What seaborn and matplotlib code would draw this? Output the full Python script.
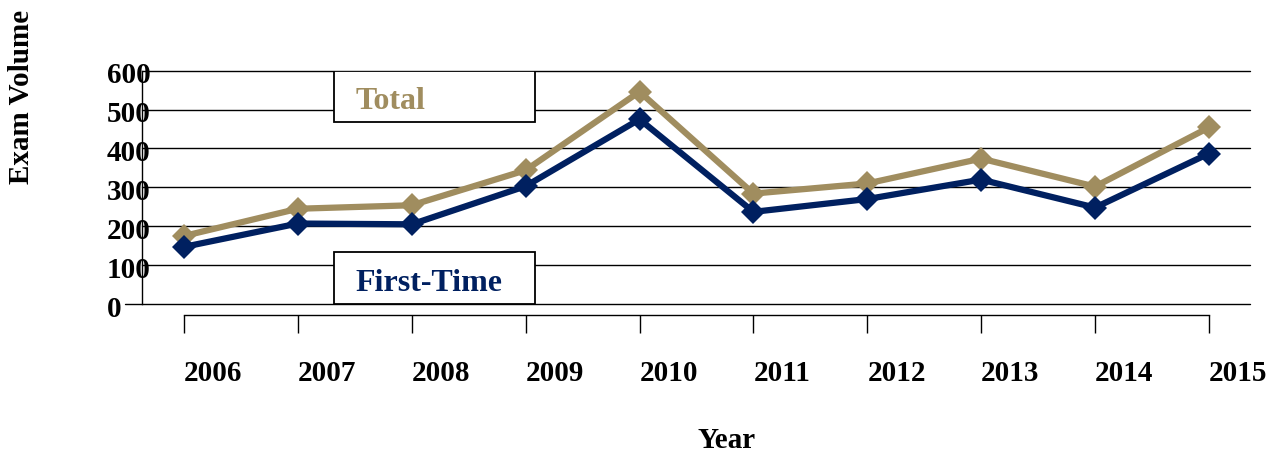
import numpy as np
import pandas as pd
import matplotlib
matplotlib.use("Agg")
import matplotlib.pyplot as plt
import matplotlib.patches as mpatches
import matplotlib.transforms as mtransforms
import seaborn as sns

# ============ DATA ============
years       = [2006, 2007, 2008, 2009, 2010, 2011, 2012, 2013, 2014, 2015]
total       = [175, 245, 254, 344, 546, 284, 310, 374, 302, 454]
first_time  = [147, 207, 205, 303, 475, 237, 270, 320, 248, 387]
y_ticks     = [0, 100, 200, 300, 400, 500, 600]
series      = ['Total', 'First-Time']

TAN  = '#A08D5F'
NAVY = '#002060'

df = pd.DataFrame({
    'Year': years * 2,
    'Exam Volume': total + first_time,
    'Series': ['Total'] * len(years) + ['First-Time'] * len(years),
})

# ============ STYLE ============
sns.set_style('white')
plt.rcParams['font.family'] = ['Liberation Serif', 'DejaVu Serif']
plt.rcParams['font.weight'] = 'bold'
plt.rcParams['text.color'] = 'black'
plt.rcParams['xtick.color'] = 'black'
plt.rcParams['ytick.color'] = 'black'
plt.rcParams['axes.labelcolor'] = 'black'

fig = plt.figure(figsize=(12.8, 4.58), dpi=100)
ax = fig.add_axes([0.1109, 0.3362, 0.8656, 0.5094])

# gridlines
for v in y_ticks:
    ax.axhline(v, color='black', lw=1.0, zorder=1, clip_on=False)
ax.axhline(0, xmin=-17 / 1108, xmax=0, color='black', lw=1.0, clip_on=False)

# label boxes
ax.add_patch(mpatches.Rectangle((0.1736, 0.780), 0.1814, 0.220, transform=ax.transAxes,
                                facecolor='white', edgecolor='black', lw=1.3, zorder=2))
ax.add_patch(mpatches.Rectangle((0.1736, 0.0), 0.1814, 0.224, transform=ax.transAxes,
                                facecolor='white', edgecolor='black', lw=1.3, zorder=2,
                                clip_on=False))
ax.text(0.1925, 0.870, 'Total', transform=ax.transAxes, color=TAN,
        fontsize=23, fontweight='bold', ha='left', va='center', zorder=3)
ax.text(0.1925, 0.090, 'First-Time', transform=ax.transAxes, color=NAVY,
        fontsize=23, fontweight='bold', ha='left', va='center', zorder=3)

# lines
sns.lineplot(data=df, x='Year', y='Exam Volume', hue='Series', hue_order=series,
             palette={'Total': TAN, 'First-Time': NAVY}, style='Series',
             markers={'Total': 'D', 'First-Time': 'D'}, dashes=False,
             linewidth=4.5, markersize=12, markeredgewidth=0,
             legend=False, ax=ax, zorder=4)

ax.set_xlim(2005.631, 2015.36)
ax.set_ylim(0, 600)
ax.set_xlabel('')
ax.set_ylabel('')

# spines
ax.spines['top'].set_visible(False)
ax.spines['right'].set_visible(False)
ax.spines['left'].set_linewidth(1.0)
ax.spines['left'].set_color('black')
ax.spines['bottom'].set_position(('outward', 8))
ax.spines['bottom'].set_bounds(years[0], years[-1])
ax.spines['bottom'].set_linewidth(1.0)
ax.spines['bottom'].set_color('black')

# x ticks
ax.set_xticks(years)
ax.set_xticklabels([str(y) for y in years], ha='left', fontsize=21, fontweight='bold')
ax.tick_params(axis='x', direction='out', length=13, width=1.0, color='black', pad=19, bottom=True)

# y tick labels (left aligned, sitting a bit under each gridline)
ax.set_yticks(y_ticks)
ax.set_yticklabels([])
ax.tick_params(axis='y', length=0)
trans = mtransforms.blended_transform_factory(ax.transAxes, ax.transData)
trans = mtransforms.offset_copy(trans, fig=fig, x=0, y=-5, units='dots')
for v in y_ticks:
    ax.text(-35 / 1108, v, str(v), transform=trans, ha='left', va='center',
            fontsize=21, fontweight='bold', color='black')

# axis titles
fig.text(22 / 1280, 1 - 97 / 458, 'Exam Volume', rotation=90, ha='center', va='center',
         fontsize=21, fontweight='bold', color='black')
fig.text(727 / 1280, 1 - 441 / 458, 'Year', ha='center', va='center',
         fontsize=21, fontweight='bold', color='black')

plt.savefig('out.png', dpi=100)
